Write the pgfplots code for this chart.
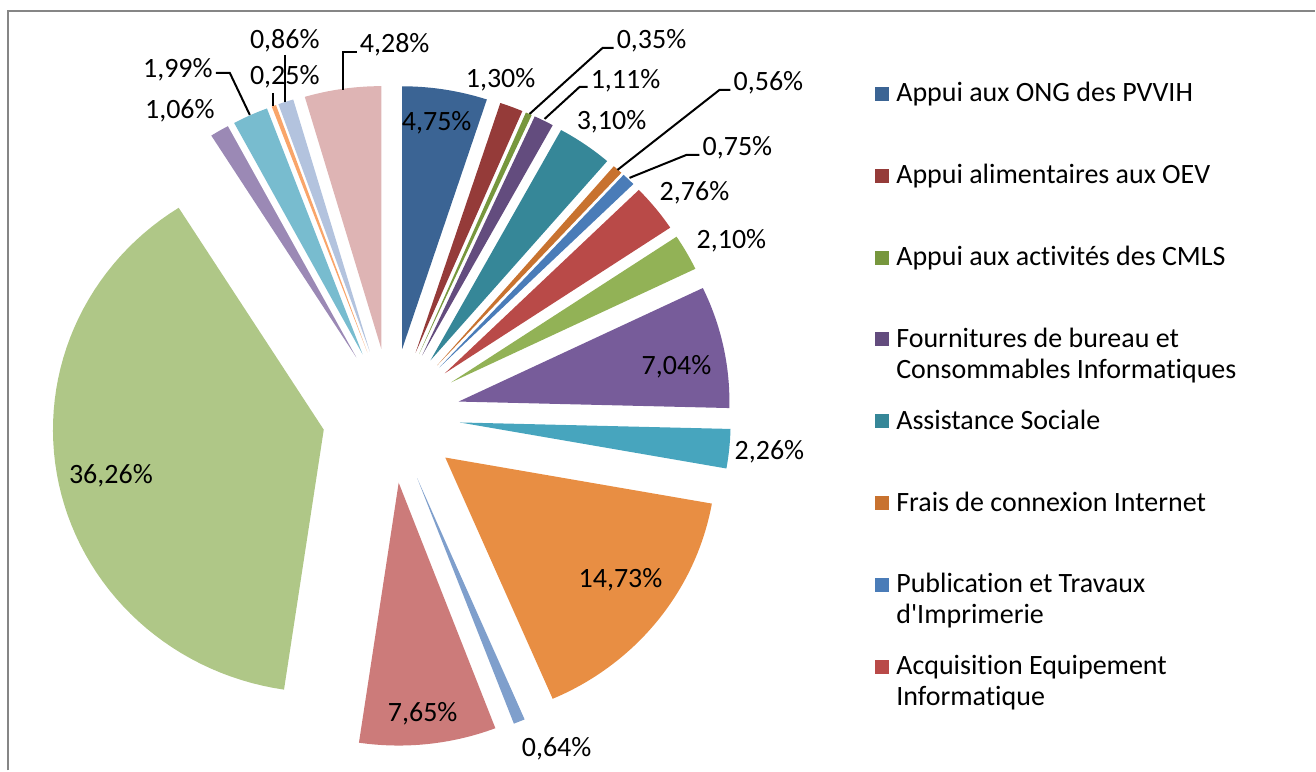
\documentclass[border=0pt]{standalone}
\usepackage{pgfplots}
\pgfplotsset{compat=1.18}
\usepackage{pgfplotstable}
\usepackage{fontspec}
\setmainfont{Carlito}[Ligatures={NoCommon}]

\definecolor{c0}{HTML}{3B6494}
\definecolor{c1}{HTML}{953B39}
\definecolor{c2}{HTML}{77973D}
\definecolor{c3}{HTML}{634C7E}
\definecolor{c4}{HTML}{368798}
\definecolor{c5}{HTML}{C8722F}
\definecolor{c6}{HTML}{4A7CB8}
\definecolor{c7}{HTML}{B94A48}
\definecolor{c8}{HTML}{92B256}
\definecolor{c9}{HTML}{775C9A}
\definecolor{c10}{HTML}{47A5BE}
\definecolor{c11}{HTML}{E88E43}
\definecolor{c12}{HTML}{7F9FCC}
\definecolor{c13}{HTML}{CC7B7A}
\definecolor{c14}{HTML}{AFC787}
\definecolor{c15}{HTML}{9B89B5}
\definecolor{c16}{HTML}{78BCCF}
\definecolor{c17}{HTML}{F9A56A}
\definecolor{c18}{HTML}{B3C3DE}
\definecolor{c19}{HTML}{DEB4B4}
\definecolor{frame}{HTML}{868686}

% percentages of the 20 slices, clockwise from 12 o'clock
\pgfplotstableread{
v
4.75
1.30
0.35
1.11
3.10
0.56
0.75
2.76
2.10
7.04
2.26
14.73
0.64
7.65
36.26
1.06
1.99
0.25
0.86
4.28
}\piedata

\def\total{93.80}
\def\cx{391.5}\def\cy{416}
\def\Rx{271}\def\Ry{263}
\def\Dx{69}\def\Dy{67.5}

\begin{document}
\begin{tikzpicture}[font=\fontsize{14}{15.5}\selectfont]
\begin{axis}[
  width=658pt, height=385.5pt, scale only axis, hide axis,
  xmin=0, xmax=1316, ymin=0, ymax=771, y dir=reverse, clip=false,
  legend image code/.code={\path[#1] (0pt,0.5pt) rectangle (7pt,7.5pt);},
  legend style={at={(axis cs:876,82)}, anchor=north west, draw=none, fill=none,
    inner sep=0pt, outer sep=0pt, row sep=30.95pt, column sep=3.5pt,
    font=\fontsize{14}{15.5}\selectfont,
    nodes={inner sep=0pt, outer sep=0pt, text height=10pt, text depth=0pt},
    cells={anchor=base west}},
  legend entries={Appui aux ONG des PVVIH,
    Appui alimentaires aux OEV,
    Appui aux activités des CMLS,
    {\begin{tabular}[t]{@{}l@{}}Fournitures de bureau et\\Consommables Informatiques\end{tabular}},
    Assistance Sociale,
    Frais de connexion Internet,
    {\begin{tabular}[t]{@{}l@{}}Publication et Travaux\\d\textquotesingle Imprimerie\end{tabular}},
    {\begin{tabular}[t]{@{}l@{}}Acquisition Equipement\\Informatique\end{tabular}}},
]
\def\cum{0}
\pgfplotsforeachungrouped \i in {0,...,19}{%
  \pgfplotstablegetelem{\i}{v}\of\piedata
  \let\val\pgfplotsretval
  \pgfmathsetmacro\ta{\cum/\total*360}%
  \pgfmathsetmacro\tb{(\cum+\val)/\total*360}%
  \pgfmathsetmacro\tm{(\ta+\tb)/2}%
  \pgfmathsetmacro\ax{\cx+\Dx*sin(\tm)}%
  \pgfmathsetmacro\ay{\cy-\Dy*cos(\tm)}%
  \xdef\coords{(\ax,\ay)}%
  \foreach \k in {0,...,60}{%
    \pgfmathsetmacro\tk{\ta+(\tb-\ta)*\k/60}%
    \pgfmathsetmacro\px{\ax+\Rx*sin(\tk)}%
    \pgfmathsetmacro\py{\ay-\Ry*cos(\tk)}%
    \xdef\coords{\coords (\px,\py)}%
  }%
  \ifnum\i<8 \def\fp{}\else\def\fp{,forget plot}\fi
  \edef\cmd{\noexpand\addplot[fill=c\i,draw=none\fp] coordinates {\coords};}%
  \cmd
  \pgfmathsetmacro\cum{\cum+\val}%
}

% leader lines
\addplot[black, line width=1pt, forget plot] coordinates {(530,114) (603,48) (614,48)};
\addplot[black, line width=1pt, forget plot] coordinates {(545,119) (580,87) (588,87)};
\addplot[black, line width=1pt, forget plot] coordinates {(618,170) (720,90) (731,90)};
\addplot[black, line width=1pt, forget plot] coordinates {(630,178) (687,155) (700,155)};
\addplot[black, line width=1pt, forget plot] coordinates {(216,73) (230,73) (250,115)};
\addplot[black, line width=1pt, forget plot] coordinates {(273,93) (273,106)};
\addplot[black, line width=1pt, forget plot] coordinates {(285,55) (285,102)};
\addplot[black, line width=1pt, forget plot] coordinates {(343,90) (343,52) (357,52)};

% frame
\addplot[frame, line width=1pt, forget plot] coordinates {(8,771) (8,11) (1316,11)};

% data labels
\node at (axis cs:437,123) {4,75\%};
\node at (axis cs:501,80) {1,30\%};
\node at (axis cs:652,41) {0,35\%};
\node at (axis cs:626,81) {1,11\%};
\node at (axis cs:612,122) {3,10\%};
\node at (axis cs:769,83) {0,56\%};
\node at (axis cs:738,148) {0,75\%};
\node at (axis cs:695,193) {2,76\%};
\node at (axis cs:732,241) {2,10\%};
\node at (axis cs:677,367) {7,04\%};
\node at (axis cs:770,452) {2,26\%};
\node at (axis cs:621,580) {14,73\%};
\node at (axis cs:557,749) {0,64\%};
\node at (axis cs:423,714) {7,65\%};
\node at (axis cs:111,476) {36,26\%};
\node at (axis cs:180,111) {1,06\%};
\node at (axis cs:178,70) {1,99\%};
\node at (axis cs:285,77) {0,25\%};
\node at (axis cs:285,41) {0,86\%};
\node at (axis cs:395,45) {4,28\%};

\path (axis cs:0,0) rectangle (axis cs:1316,771);
\end{axis}
\end{tikzpicture}
\end{document}
